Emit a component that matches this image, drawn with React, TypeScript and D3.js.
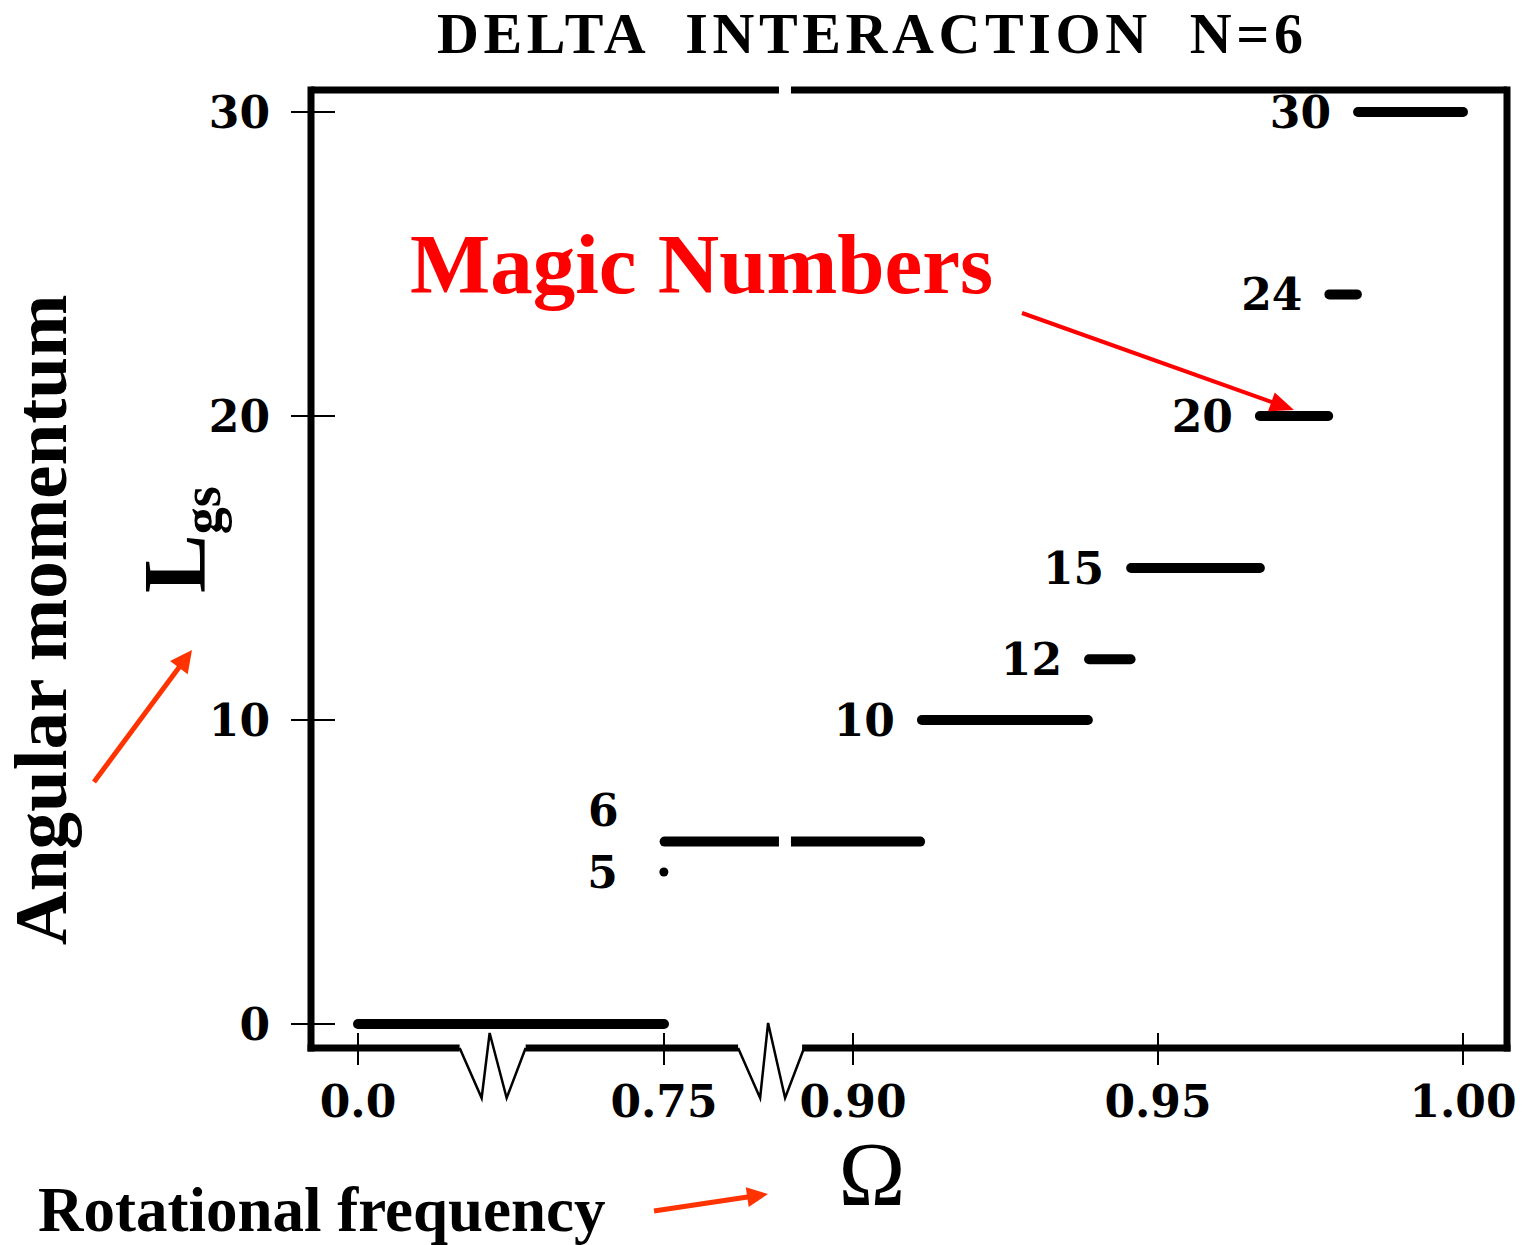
import React from 'react';
import * as d3 from 'd3';

const W = 1523;
const H = 1245;

// Ground-state angular momentum plateaus: L_gs and the Ω interval on which it holds
const plateauL = [0, 5, 6, 10, 12, 15, 20, 24, 30];
const plateauStart = [0, 0.7497, 0.7505, 0.9113, 0.9387, 0.9456, 0.9667, 0.9781, 0.9828];
const plateauEnd = [0.75, 0.7497, 0.911, 0.9385, 0.9455, 0.9667, 0.9779, 0.9826, 1.0];
const labeledL = [5, 6, 10, 12, 15, 20, 24, 30];

const xTickValues = [0, 0.75, 0.9, 0.95, 1.0];
const xTickLabels = ['0.0', '0.75', '0.90', '0.95', '1.00'];
const yTickValues = [0, 10, 20, 30];
const yTickLabels = ['0', '10', '20', '30'];

// Ω positions of the two axis breaks (zig-zags) and the gap in the top frame
const axisBreaks = [0.33, 0.835];
const frameGap = 0.846;

const title = 'DELTA  INTERACTION  N=6';

// Frame of the plot area
const frame = { left: 311, right: 1507, top: 90, bottom: 1048 };

// broken Ω axis: piecewise-linear over the visible pieces
const xs = d3.scaleLinear().domain([0, 0.75, 0.9, 1.0]).range([358, 664, 853, 1463]);
const ys = d3.scaleLinear().domain([0, 30]).range([1024, 112]);

const numFont = "'DejaVu Serif', serif";
const textFont = "'Liberation Serif', 'Times New Roman', serif";
const orange = '#ff3300';

// label offsets for the plateau labels stacked at Ω = 0.75
const labelLayout: Record<number, { gap: number; dy: number }> = {
  5: { gap: 46, dy: 0 },
  6: { gap: 46, dy: -31.6 },
};

function Arrow({ x1, y1, x2, y2, color, width, head, half }: any) {
  const dx = x2 - x1;
  const dy = y2 - y1;
  const len = Math.hypot(dx, dy);
  const ux = dx / len;
  const uy = dy / len;
  const bx = x2 - ux * head;
  const by = y2 - uy * head;
  const px = -uy;
  const py = ux;
  const pts = [
    [x2, y2],
    [bx + px * half, by + py * half],
    [bx - px * half, by - py * half],
  ]
    .map((p) => p.join(','))
    .join(' ');
  return (
    <g>
      <line x1={x1} y1={y1} x2={bx + ux * 2} y2={by + uy * 2} stroke={color} strokeWidth={width} />
      <polygon points={pts} fill={color} />
    </g>
  );
}

// W-shaped zig-zag marking a break in the Ω axis
function zigzagPath(cx: number, y: number, peak: number) {
  const line = d3.line();
  return line([
    [cx - 33, y],
    [cx - 11, y + 50],
    [cx - 3, y + peak],
    [cx + 14, y + 50],
    [cx + 33, y],
  ]) as string;
}

export default function App() {
  const plateaus = plateauL.map((L, i) => ({ L, x0: plateauStart[i], x1: plateauEnd[i] }));
  const bx = axisBreaks.map((b) => xs(b));
  const gx = xs(frameGap);
  const fw = 7;

  return (
    <svg width={W} height={H} viewBox={`0 0 ${W} ${H}`} style={{ display: 'block', position: 'absolute', left: 0, top: 0 }}>
      <rect x={0} y={0} width={W} height={H} fill="#fff" />

      {/* title */}
      <text
        x={437}
        y={53}
        textLength={866}
        lengthAdjust="spacing"
        fontFamily={textFont}
        fontWeight="bold"
        fontSize={58}
        style={{ whiteSpace: 'pre' }}
      >
        {title}
      </text>

      {/* plateaus */}
      {plateaus.map((p) =>
        p.x0 === p.x1 ? (
          <circle key={p.L} cx={xs(p.x0)} cy={ys(p.L)} r={4.5} fill="#000" />
        ) : (
          <line
            key={p.L}
            x1={xs(p.x0)}
            x2={xs(p.x1)}
            y1={ys(p.L)}
            y2={ys(p.L)}
            stroke="#000"
            strokeWidth={10}
            strokeLinecap="round"
          />
        )
      )}

      {/* frame: left, right, top */}
      <line x1={frame.left} x2={frame.left} y1={frame.top - fw / 2} y2={frame.bottom + fw / 2} stroke="#000" strokeWidth={fw} />
      <line x1={frame.right} x2={frame.right} y1={frame.top - fw / 2} y2={frame.bottom + fw / 2} stroke="#000" strokeWidth={fw} />
      <line x1={frame.left} x2={frame.right} y1={frame.top} y2={frame.top} stroke="#000" strokeWidth={fw} />

      {/* gap through the top frame and the L=6 plateau at the axis break */}
      <rect x={gx - 6} y={frame.top - 10} width={12} height={ys(6) - frame.top + 20} fill="#fff" />

      {/* bottom axis, interrupted by the breaks */}
      <line x1={frame.left - fw / 2} x2={bx[0] - 33} y1={frame.bottom} y2={frame.bottom} stroke="#000" strokeWidth={fw} />
      <line x1={bx[0] + 33} x2={bx[1] - 33} y1={frame.bottom} y2={frame.bottom} stroke="#000" strokeWidth={fw} />
      <line x1={bx[1] + 31} x2={frame.right + fw / 2} y1={frame.bottom} y2={frame.bottom} stroke="#000" strokeWidth={fw} />
      <path d={zigzagPath(bx[0], frame.bottom, -15)} fill="none" stroke="#000" strokeWidth={2.5} />
      <path d={zigzagPath(bx[1], frame.bottom, -25)} fill="none" stroke="#000" strokeWidth={2.5} />

      {/* x ticks */}
      {xTickValues.map((v, i) => (
        <g key={`xt${i}`}>
          <line x1={xs(v)} x2={xs(v)} y1={1033} y2={1065} stroke="#000" strokeWidth={2} />
          <text
            x={xs(v)}
            y={1117}
            textAnchor="middle"
            fontFamily={numFont}
            fontWeight="bold"
            fontSize={44}
          >
            {xTickLabels[i]}
          </text>
        </g>
      ))}

      {/* y ticks */}
      {yTickValues.map((v, i) => (
        <g key={`yt${i}`}>
          <line x1={291} x2={335} y1={ys(v)} y2={ys(v)} stroke="#000" strokeWidth={2} />
          <text
            x={270}
            y={ys(v) + 16}
            textAnchor="end"
            fontFamily={numFont}
            fontWeight="bold"
            fontSize={44}
          >
            {yTickLabels[i]}
          </text>
        </g>
      ))}

      {/* plateau labels */}
      {labeledL.map((L) => {
        const p = plateaus.find((q) => q.L === L)!;
        const lay = labelLayout[L] || { gap: 27, dy: 0 };
        return (
          <text
            key={`lab${L}`}
            x={xs(p.x0) - lay.gap}
            y={ys(L) + 16 + lay.dy}
            textAnchor="end"
            fontFamily={numFont}
            fontWeight="bold"
            fontSize={44}
          >
            {L}
          </text>
        );
      })}

      {/* axis symbols */}
      <text transform="translate(204,593) rotate(-90)" fontFamily={textFont} fontWeight="bold" fontSize={88}>
        L
        <tspan fontSize={54} dy={16}>
          gs
        </tspan>
      </text>
      <text x={872} y={1205} textAnchor="middle" fontFamily={textFont} fontSize={90}>
        Ω
      </text>

      {/* descriptive captions */}
      <text transform="translate(66,620) rotate(-90)" textAnchor="middle" fontFamily={textFont} fontWeight="bold" fontSize={75}>
        Angular momentum
      </text>
      <text x={38} y={1231} fontFamily={textFont} fontWeight="bold" fontSize={63}>
        Rotational frequency
      </text>
      <text x={410} y={293} fontFamily={textFont} fontWeight="bold" fontSize={85} fill="#ff0000">
        Magic Numbers
      </text>

      <Arrow x1={94} y1={782} x2={192} y2={650} color={orange} width={5} head={22} half={11} />
      <Arrow x1={654} y1={1211} x2={768} y2={1194} color={orange} width={5} head={21} half={10} />
      <Arrow x1={1022} y1={313} x2={1294} y2={410} color="#ff0000" width={4} head={24} half={10} />
    </svg>
  );
}
